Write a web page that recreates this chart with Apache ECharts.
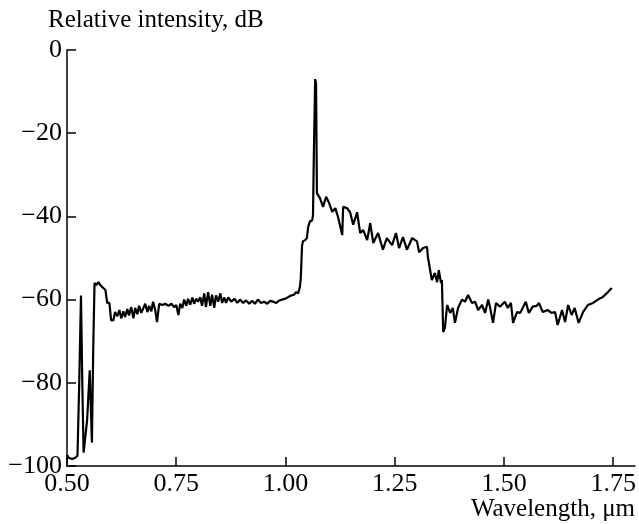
<!DOCTYPE html>
<html>
<head>
<meta charset="utf-8">
<script src="https://cdn.jsdelivr.net/npm/echarts@6/dist/echarts.min.js"></script>
<style>
  html, body { margin: 0; padding: 0; background: #fff; }
  #chart { width: 639px; height: 524px; }
</style>
</head>
<body>
<div id="chart"></div>
<script>
// wavelength, um
var wavelength = [
  0.501, 0.503, 0.512, 0.519, 0.524, 0.528, 0.532, 0.535, 0.538, 0.542,
  0.546, 0.552, 0.554, 0.557, 0.560, 0.563, 0.567, 0.572, 0.576, 0.583,
  0.588, 0.592, 0.597, 0.601, 0.606, 0.610, 0.615, 0.620, 0.624, 0.629,
  0.633, 0.638, 0.642, 0.647, 0.652, 0.656, 0.661, 0.665, 0.670, 0.675,
  0.679, 0.684, 0.688, 0.693, 0.697, 0.702, 0.706, 0.711, 0.718, 0.725,
  0.732, 0.739, 0.745, 0.750, 0.755, 0.759, 0.764, 0.768, 0.773, 0.777,
  0.782, 0.787, 0.791, 0.796, 0.800, 0.805, 0.809, 0.814, 0.818, 0.823,
  0.828, 0.832, 0.837, 0.841, 0.846, 0.851, 0.855, 0.860, 0.864, 0.869,
  0.876, 0.883, 0.890, 0.896, 0.903, 0.910, 0.917, 0.924, 0.930, 0.937,
  0.944, 0.951, 0.958, 0.965, 0.972, 0.979, 0.986, 0.992, 0.999, 1.006,
  1.013, 1.020, 1.024, 1.029, 1.033, 1.035, 1.038, 1.040, 1.045, 1.049,
  1.052, 1.056, 1.061, 1.063, 1.065, 1.068, 1.070, 1.072, 1.079, 1.086,
  1.093, 1.100, 1.107, 1.114, 1.120, 1.130, 1.132, 1.141, 1.148, 1.155,
  1.164, 1.171, 1.178, 1.187, 1.194, 1.201, 1.212, 1.223, 1.232, 1.244,
  1.253, 1.260, 1.269, 1.278, 1.290, 1.301, 1.306, 1.315, 1.324, 1.326,
  1.335, 1.342, 1.347, 1.351, 1.356, 1.358, 1.361, 1.365, 1.370, 1.377,
  1.383, 1.388, 1.395, 1.404, 1.411, 1.418, 1.427, 1.434, 1.441, 1.450,
  1.457, 1.464, 1.468, 1.475, 1.482, 1.491, 1.502, 1.509, 1.516, 1.521,
  1.530, 1.537, 1.543, 1.550, 1.557, 1.566, 1.575, 1.580, 1.589, 1.600,
  1.609, 1.617, 1.623, 1.633, 1.640, 1.647, 1.655, 1.662, 1.671, 1.681,
  1.692, 1.704, 1.715, 1.726, 1.738, 1.747
];

// relative intensity, dB
var intensity = [
  -97.4, -98.0, -98.3, -98.0, -97.5, -80.0, -59.0, -80.0, -96.8, -96.6,
  -89.0, -77.0, -84.0, -94.4, -72.0, -56.0, -56.5, -55.8, -56.5, -57.2,
  -57.7, -60.8, -60.8, -65.0, -65.0, -63.0, -64.0, -62.5, -64.5, -62.8,
  -64.2, -62.3, -63.8, -61.8, -64.5, -62.0, -63.5, -61.5, -63.2, -62.0,
  -61.0, -63.0, -61.5, -62.8, -60.5, -62.5, -65.4, -61.0, -61.3, -61.0,
  -61.5, -61.0, -61.8, -61.3, -63.7, -61.0, -62.0, -60.0, -61.5, -59.8,
  -61.2, -59.5, -61.0, -59.8, -60.5, -59.4, -61.5, -58.5, -61.8, -58.2,
  -61.5, -58.8, -62.0, -59.0, -60.5, -58.5, -60.8, -59.5, -60.8, -59.5,
  -60.5, -59.8, -60.8, -60.0, -60.8, -60.2, -61.0, -60.3, -61.0, -60.0,
  -60.8, -60.5, -61.0, -60.3, -60.5, -60.8, -60.2, -60.0, -59.8, -59.4,
  -59.0, -58.8, -58.2, -58.5, -57.0, -55.0, -47.0, -46.0, -45.7, -45.2,
  -42.5, -41.2, -41.0, -39.7, -25.0, -7.0, -8.0, -34.4, -35.6, -37.7,
  -35.3, -36.8, -38.9, -38.0, -40.0, -44.5, -37.7, -38.0, -39.0, -42.0,
  -39.0, -44.0, -43.3, -45.7, -41.6, -46.4, -44.0, -48.0, -45.2, -46.9,
  -44.0, -47.6, -45.0, -48.0, -45.2, -46.0, -48.6, -47.6, -47.3, -49.8,
  -55.3, -53.6, -55.8, -52.9, -56.0, -55.3, -67.8, -66.8, -61.3, -63.2,
  -62.0, -65.6, -62.0, -60.0, -60.5, -58.9, -60.8, -60.5, -62.5, -61.3,
  -63.2, -60.0, -61.7, -65.6, -60.8, -61.7, -60.5, -62.0, -60.8, -65.6,
  -63.0, -63.2, -62.0, -60.5, -63.2, -61.7, -61.5, -60.8, -63.0, -62.5,
  -63.2, -63.0, -66.1, -62.5, -65.4, -61.3, -63.7, -62.0, -65.6, -63.0,
  -61.3, -60.8, -60.0, -59.4, -58.2, -57.2
];

var xTicks = [0.5, 0.75, 1.0, 1.25, 1.5, 1.75];
var yTicks = [-100, -80, -60, -40, -20, 0];

var serif = '"Liberation Serif", "DejaVu Serif", serif';

var points = wavelength.map(function (w, i) {
  return [w, intensity[i]];
});

var chart = echarts.init(document.getElementById('chart'), null, { renderer: 'canvas' });

chart.setOption({
  backgroundColor: '#fff',
  animation: false,
  grid: { left: 67, right: 4, top: 50, bottom: 58 },
  xAxis: {
    type: 'value',
    min: 0.5,
    max: 1.8,
    splitLine: { show: false },
    axisLine: { onZero: false, lineStyle: { color: '#000', width: 1.5 } },
    axisTick: {
      inside: true, length: 9, customValues: xTicks,
      lineStyle: { color: '#000', width: 1.5 }
    },
    axisLabel: {
      customValues: xTicks,
      margin: 5,
      color: '#000',
      fontFamily: serif,
      fontSize: 26,
      formatter: function (v) { return v.toFixed(2); }
    }
  },
  yAxis: {
    type: 'value',
    min: -100,
    max: 0,
    splitLine: { show: false },
    axisLine: { onZero: false, lineStyle: { color: '#000', width: 1.5 } },
    axisTick: {
      inside: true, length: 9, customValues: yTicks,
      lineStyle: { color: '#000', width: 1.5 }
    },
    axisLabel: {
      customValues: yTicks,
      margin: 5,
      color: '#000',
      fontFamily: serif,
      fontSize: 26,
      formatter: function (v) { return v < 0 ? '\u2212' + (-v) : String(v); }
    }
  },
  graphic: [
    {
      type: 'text', left: 48, top: 8,
      style: { text: 'Relative intensity, dB', font: '25px ' + serif, fill: '#000' }
    },
    {
      type: 'text', right: 4, top: 497,
      style: { text: 'Wavelength, \u03bcm', font: '25px ' + serif, fill: '#000' }
    }
  ],
  series: [{
    type: 'line',
    data: points,
    showSymbol: false,
    symbol: 'none',
    lineStyle: { color: '#000', width: 2.2 },
    z: 3
  }]
});
</script>
</body>
</html>
